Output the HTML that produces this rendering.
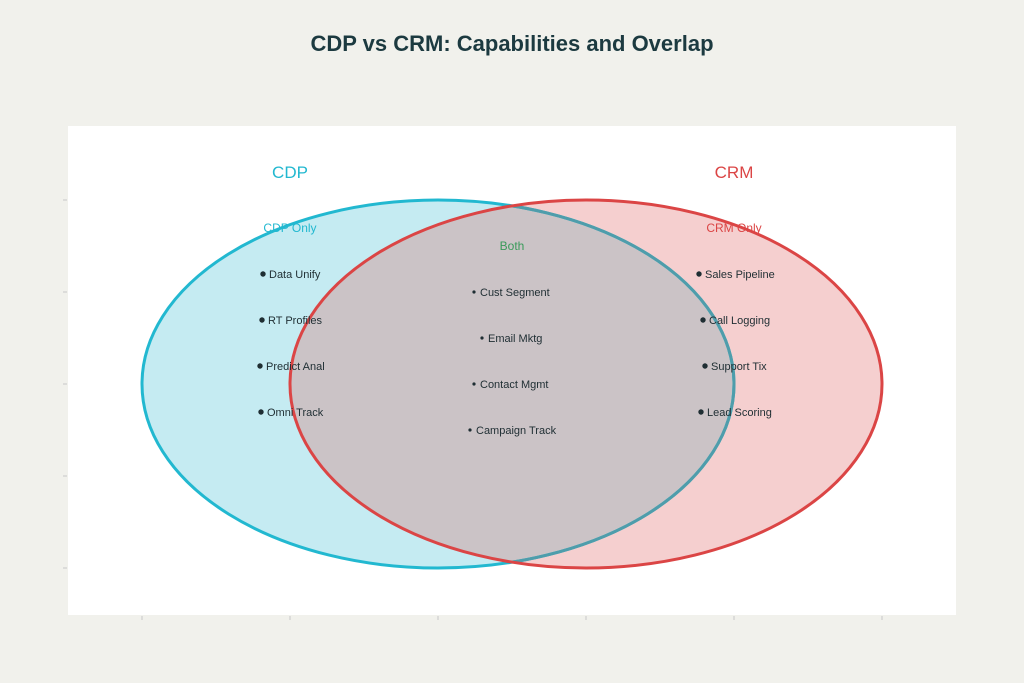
<!DOCTYPE html>
<html><head><meta charset="utf-8"><style>
html,body{margin:0;padding:0;background:#f1f1ec;}
svg{display:block;font-family:"Liberation Sans","DejaVu Sans",sans-serif;}
</style></head><body>
<svg width="1024" height="683" viewBox="0 0 1024 683" xmlns="http://www.w3.org/2000/svg">
<rect width="1024" height="683" fill="#f1f1ec"/>
<text x="512" y="51" text-anchor="middle" font-size="22" font-weight="bold" fill="#1c3a40">CDP vs CRM: Capabilities and Overlap</text>
<rect x="68" y="126" width="888" height="489" fill="#ffffff"/>
<g stroke="#c8c8c8" stroke-width="1">
<line x1="142" y1="616" x2="142" y2="620"/><line x1="290" y1="616" x2="290" y2="620"/><line x1="438" y1="616" x2="438" y2="620"/><line x1="586" y1="616" x2="586" y2="620"/><line x1="734" y1="616" x2="734" y2="620"/><line x1="882" y1="616" x2="882" y2="620"/>
<line x1="63" y1="200" x2="67" y2="200"/><line x1="63" y1="292" x2="67" y2="292"/><line x1="63" y1="384" x2="67" y2="384"/><line x1="63" y1="476" x2="67" y2="476"/><line x1="63" y1="568" x2="67" y2="568"/>
</g>
<defs>
<clipPath id="c"><ellipse cx="438" cy="384" rx="296" ry="184"/></clipPath>
<clipPath id="r"><ellipse cx="586" cy="384" rx="296" ry="184"/></clipPath>
</defs>
<ellipse cx="438" cy="384" rx="296" ry="184" fill="#c5ebf2"/>
<ellipse cx="586" cy="384" rx="296" ry="184" fill="#f5cfcf"/>
<ellipse cx="586" cy="384" rx="296" ry="184" fill="#cbc3c6" clip-path="url(#c)"/>
<ellipse cx="438" cy="384" rx="296" ry="184" fill="none" stroke="#22b8d0" stroke-width="3"/>
<ellipse cx="438" cy="384" rx="296" ry="184" fill="none" stroke="#4f9dab" stroke-width="3" clip-path="url(#r)"/>
<ellipse cx="586" cy="384" rx="296" ry="184" fill="none" stroke="#db4545" stroke-width="3"/>
<text x="290" y="178" text-anchor="middle" font-size="17" fill="#22b8d0">CDP</text>
<text x="734" y="178" text-anchor="middle" font-size="17" fill="#db4545">CRM</text>
<text x="290" y="232" text-anchor="middle" font-size="12" fill="#22b8d0">CDP Only</text>
<text x="734" y="232" text-anchor="middle" font-size="12" fill="#db4545">CRM Only</text>
<text x="512" y="250" text-anchor="middle" font-size="12" fill="#3a9a5a">Both</text>
<g font-size="11" fill="#1f2e33">
<circle cx="263" cy="274" r="2.7" fill="#1f2e33"/><text x="269" y="278">Data Unify</text>
<circle cx="262" cy="320" r="2.7" fill="#1f2e33"/><text x="268" y="324">RT Profiles</text>
<circle cx="260" cy="366" r="2.7" fill="#1f2e33"/><text x="266" y="370">Predict Anal</text>
<circle cx="261" cy="412" r="2.7" fill="#1f2e33"/><text x="267" y="416">Omni Track</text>
<circle cx="699" cy="274" r="2.7" fill="#1f2e33"/><text x="705" y="278">Sales Pipeline</text>
<circle cx="703" cy="320" r="2.7" fill="#1f2e33"/><text x="709" y="324">Call Logging</text>
<circle cx="705" cy="366" r="2.7" fill="#1f2e33"/><text x="711" y="370">Support Tix</text>
<circle cx="701" cy="412" r="2.7" fill="#1f2e33"/><text x="707" y="416">Lead Scoring</text>
<circle cx="474" cy="292" r="1.6" fill="#1f2e33"/><text x="480" y="296">Cust Segment</text>
<circle cx="482" cy="338" r="1.6" fill="#1f2e33"/><text x="488" y="342">Email Mktg</text>
<circle cx="474" cy="384" r="1.6" fill="#1f2e33"/><text x="480" y="388">Contact Mgmt</text>
<circle cx="470" cy="430" r="1.6" fill="#1f2e33"/><text x="476" y="434">Campaign Track</text>
</g>
</svg>
</body></html>
